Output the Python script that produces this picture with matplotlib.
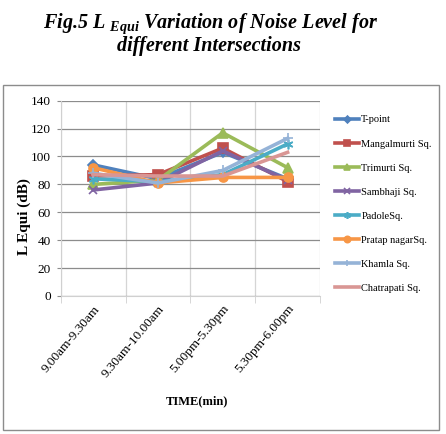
import matplotlib
matplotlib.use("Agg")
import matplotlib.pyplot as plt
from matplotlib.patches import Rectangle

plt.rcParams["font.family"] = ["Liberation Serif", "DejaVu Serif"]
plt.rcParams["mathtext.fontset"] = "custom"
plt.rcParams["mathtext.rm"] = "Liberation Serif:bold:italic"

# data
times = ["9.00am-9.30am", "9.30am-10.00am", "5.00pm-5.30pm", "5.30pm-6.00pm"]
t_point = [94, 84, 103, 84]
mangalmurti = [86, 87, 106, 82]
trimurti = [80, 83, 117, 92]
sambhaji = [76, 81, 104, 83]
padole = [84, 82, 87, 109]
pratap_nagar = [92, 81, 85, 85]
khamla = [88, 81, 90, 113]
chatrapati = [87, 86, 86, 103]

series = [
    ("T-point", t_point, "#4F81BD", "D", 5),
    ("Mangalmurti Sq.", mangalmurti, "#C0504D", "s", 6.5),
    ("Trimurti Sq.", trimurti, "#9BBB59", "^", 6.5),
    ("Sambhaji Sq.", sambhaji, "#8064A2", "x", 6),
    ("PadoleSq.", padole, "#4BACC6", (6, 2, 0), 7),
    ("Pratap nagarSq.", pratap_nagar, "#F79646", "o", 6.5),
    ("Khamla Sq.", khamla, "#95B3D7", "+", 7),
    ("Chatrapati Sq.", chatrapati, "#D99694", None, 0),
]

fig = plt.figure(figsize=(4.46, 4.34), dpi=100)
fig.patches.append(Rectangle((2.5 / 446, 1 - 430 / 434), 436.5 / 446, 345 / 434,
                             transform=fig.transFigure, fill=False,
                             edgecolor="#8c8c8c", linewidth=1.0))

ax = fig.add_axes([60.7 / 446, 1 - 296 / 434, 259.3 / 446, 195.3 / 434])
x = range(1, len(times) + 1)
for name, vals, col, mk, ms in series:
    ax.plot(x, vals, color=col, linewidth=2.6, marker=mk, markersize=ms,
            markeredgewidth=1.2, label=name)

ax.set_xlim(0.5, 4.5)
ax.set_ylim(0, 140)
ax.set_yticks(range(0, 141, 20))
ax.set_xticks(list(x))
ax.set_xticks([0.5, 1.5, 2.5, 3.5, 4.5], minor=True)
ax.set_xticklabels(times, rotation=50, ha="right", va="top",
                   rotation_mode="anchor", fontsize=9.5)
ax.tick_params(axis="x", which="major", length=0, pad=5)
ax.tick_params(axis="x", which="minor", length=5, color="#d0d0d0")
ax.tick_params(axis="y", length=3, color="#8c8c8c", labelsize=9.5, pad=4)
ax.grid(axis="y", color="#8c8c8c", linewidth=0.9)
ax.grid(axis="x", which="minor", color="#d5d5d5", linewidth=0.9)
for s in ax.spines.values():
    s.set_visible(False)
ax.spines["left"].set_visible(True)
ax.spines["left"].set_color("#d0d0d0")
ax.spines["bottom"].set_visible(True)
ax.spines["bottom"].set_color("#d0d0d0")
ax.set_axisbelow(True)

fig.text(197 / 446, 1 - 401 / 434, "TIME(min)", ha="center", va="center",
         fontsize=9, fontweight="bold")
fig.text(24 / 446, 1 - 217 / 434, "L Equi (dB)", rotation=90, ha="center",
         va="center", fontsize=11, fontweight="bold")

leg = ax.legend(loc="upper left", bbox_to_anchor=(330 / 446, 1 - 110 / 434),
                bbox_transform=fig.transFigure, frameon=False, fontsize=7.5,
                handlelength=2.3, handletextpad=0.2, labelspacing=1.42,
                borderpad=0, markerscale=0.7)

fig.text(211 / 446, 1 - 24 / 434,
         r"Fig.5 L $_{\mathrm{Equi}}$ Variation of Noise Level for",
         ha="center", va="center", fontsize=14.5, fontweight="bold",
         fontstyle="italic")
fig.text(209 / 446, 1 - 46 / 434, "different Intersections", ha="center",
         va="center", fontsize=14.5, fontweight="bold", fontstyle="italic")

fig.savefig("out.png", dpi=100)
